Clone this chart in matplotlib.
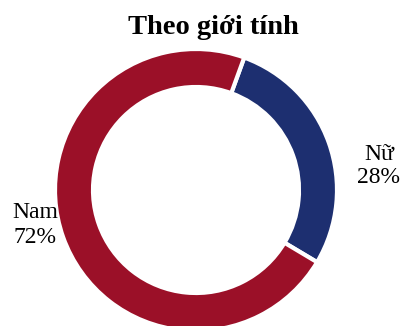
import matplotlib.pyplot as plt

# data
labels = ['Nữ', 'Nam']
values = [28, 72]
colors = ['#1D2F70', '#9B1028']

fig = plt.figure(figsize=(4.02, 3.26), dpi=100)
ax = fig.add_axes([0, 0, 1, 1])
ax.set_aspect('equal')
ax.axis('off')

wedges, _ = ax.pie(values, colors=colors, center=(196, 136), radius=141,
                   startangle=70, counterclock=False,
                   wedgeprops=dict(width=38, edgecolor='white', linewidth=3))
ax.set_xlim(0, 402)
ax.set_ylim(0, 326)

font = 'Liberation Serif'
# labels
ax.text(379, 160, '%s\n%d%%' % (labels[0], values[0]), ha='center', va='center',
        fontsize=17, family=font, linespacing=1.15, zorder=5)
ax.text(35, 101, '%s\n%d%%' % (labels[1], values[1]), ha='center', va='center',
        fontsize=17, family=font, linespacing=1.2, zorder=5)

fig.text(0.53, 0.917, 'Theo giới tính', ha='center', va='center',
         fontsize=20.5, fontweight='bold', family=font)

fig.savefig('out.png', dpi=100)
